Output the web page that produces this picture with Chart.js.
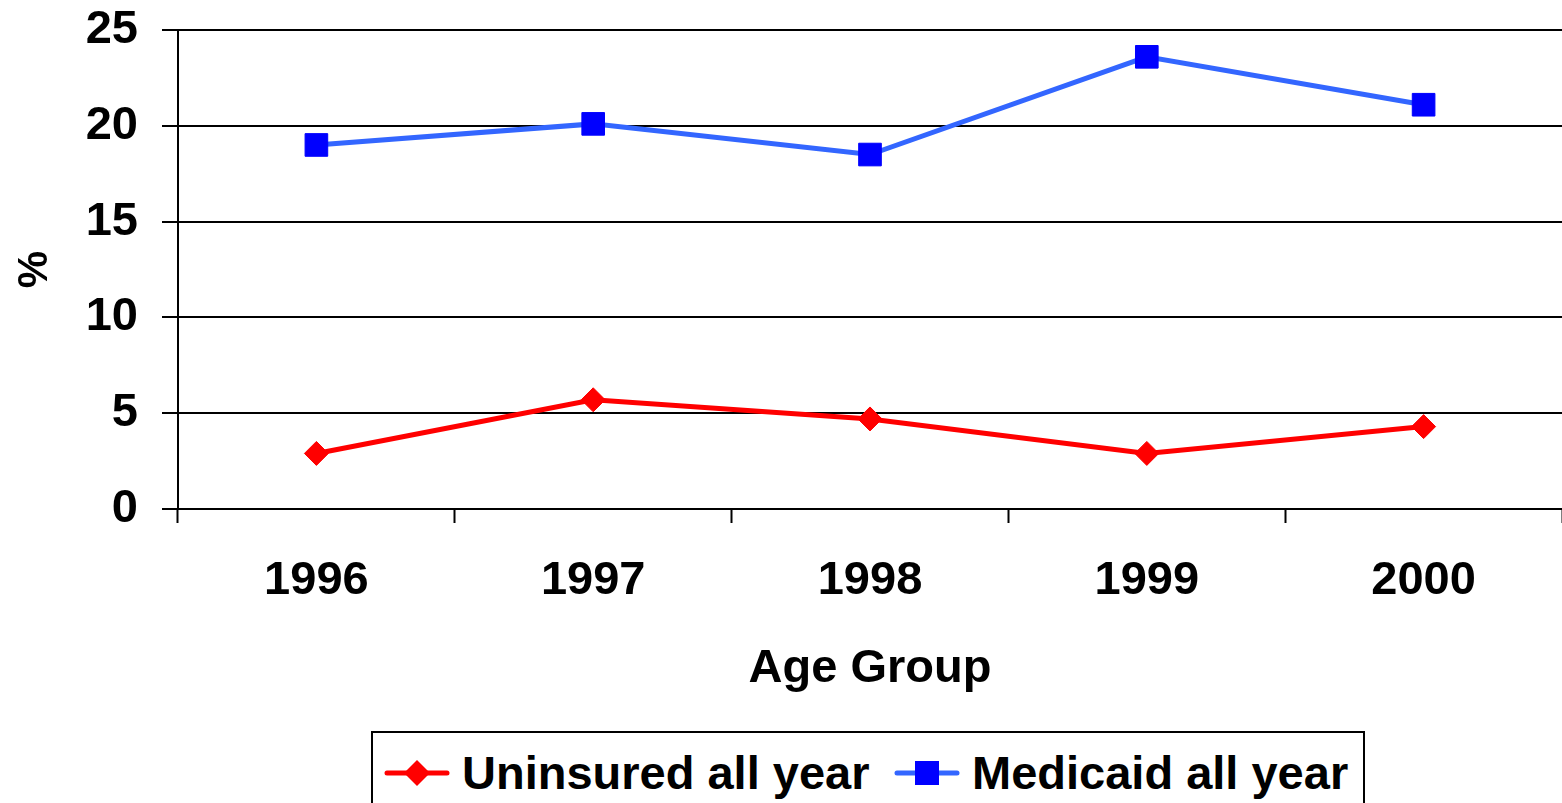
<!DOCTYPE html>
<html>
<head>
<meta charset="utf-8">
<script src="https://cdn.jsdelivr.net/npm/chart.js@4"></script>
<style>
  html, body { margin: 0; padding: 0; background: #fff; overflow: hidden; }
  #wrap { position: relative; width: 1562px; height: 803px; overflow: hidden; }
  #legend {
    position: absolute; left: 371px; top: 731px; width: 994px; height: 100px;
    border: 2px solid #000; box-sizing: border-box; background: #fff;
    font: bold 47px "Liberation Sans", Arial, sans-serif; color: #000;
  }
  #legend .item { position: absolute; top: 12px; height: 56px; line-height: 56px; white-space: nowrap; }
  #legend svg { position: absolute; top: 12px; }
  #legend span { position: absolute; left: 78px; top: 0; }
</style>
</head>
<body>
<div id="wrap">
  <canvas id="chart" width="1562" height="803"></canvas>
  <div id="legend"></div>
</div>
<script>
var years = ["1996", "1997", "1998", "1999", "2000"];
var uninsured = [2.9, 5.7, 4.7, 2.9, 4.3];
var medicaid = [19.0, 20.1, 18.5, 23.6, 21.1];
var seriesNames = ["Uninsured all year", "Medicaid all year"];

var fontFamily = '"Liberation Sans", Arial, sans-serif';

var chart = new Chart(document.getElementById("chart"), {
    type: 'line',
    data: {
        labels: years,
        datasets: [{
            label: seriesNames[0],
            data: uninsured,
            borderColor: '#ff0000',
            backgroundColor: '#ff0000',
            borderWidth: 5,
            pointStyle: 'rectRot',
            pointRadius: 12,
            pointBorderWidth: 1,
            pointBorderColor: '#ff0000',
            pointBackgroundColor: '#ff0000',
            tension: 0
        }, {
            label: seriesNames[1],
            data: medicaid,
            borderColor: '#3366ff',
            backgroundColor: '#0000ff',
            borderWidth: 5,
            pointStyle: 'rect',
            pointRadius: 16,
            pointBorderWidth: 1,
            pointBorderColor: '#0000ff',
            pointBackgroundColor: '#0000ff',
            tension: 0
        }]
    },
    options: {
        responsive: false,
        devicePixelRatio: 1,
        animation: false,
        layout: {
            autoPadding: false,
            padding: { top: 30, right: 0, bottom: 0, left: 0 }
        },
        plugins: {
            legend: { display: false },
            tooltip: { enabled: false }
        },
        scales: {
            x: {
                offset: true,
                grid: {
                    offset: true,
                    drawOnChartArea: false,
                    drawTicks: true,
                    tickLength: 14,
                    tickWidth: 2,
                    tickColor: '#000'
                },
                border: { color: '#000', width: 2 },
                ticks: {
                    color: '#000',
                    padding: 30,
                    maxRotation: 0,
                    font: { family: fontFamily, size: 47, weight: 'bold' }
                },
                title: {
                    display: true,
                    text: 'Age Group',
                    color: '#000',
                    padding: { top: 0, bottom: 106 },
                    font: { family: fontFamily, size: 47, weight: 'bold' }
                },
                afterFit: function (s) {
                    s.height = 294;
                    s.paddingLeft = 0;
                    s.paddingRight = 0;
                }
            },
            y: {
                min: 0,
                max: 25,
                ticks: {
                    stepSize: 5,
                    color: '#000',
                    padding: 24,
                    font: { family: fontFamily, size: 47, weight: 'bold' }
                },
                grid: {
                    color: '#000',
                    lineWidth: 2,
                    tickLength: 16,
                    tickColor: '#000'
                },
                border: { color: '#000', width: 2 },
                title: {
                    display: true,
                    text: '%',
                    color: '#000',
                    padding: { top: 10, bottom: 0 },
                    font: { family: fontFamily, size: 42, weight: 'bold' }
                },
                afterFit: function (s) {
                    s.width = 178;
                    s.paddingTop = 0;
                    s.paddingBottom = 0;
                }
            }
        }
    }
});

// legend box with line + marker samples
function buildLegend() {
    var legend = document.getElementById('legend');
    var lefts = [11, 521];
    chart.data.datasets.forEach(function (ds, i) {
        var item = document.createElement('div');
        item.className = 'item';
        item.style.left = lefts[i] + 'px';
        var marker;
        if (ds.pointStyle === 'rectRot') {
            marker = '<polygon points="33,3 46,16 33,29 20,16" fill="' + ds.pointBackgroundColor + '"/>';
        } else {
            marker = '<rect x="21" y="4" width="24" height="24" fill="' + ds.pointBackgroundColor + '"/>';
        }
        item.innerHTML = '<svg width="66" height="32">' +
            '<line x1="3" y1="16" x2="63" y2="16" stroke="' + ds.borderColor + '" stroke-width="5" stroke-linecap="round"/>' +
            marker + '</svg><span>' + ds.label + '</span>';
        legend.appendChild(item);
    });
}
buildLegend();
</script>
</body>
</html>
